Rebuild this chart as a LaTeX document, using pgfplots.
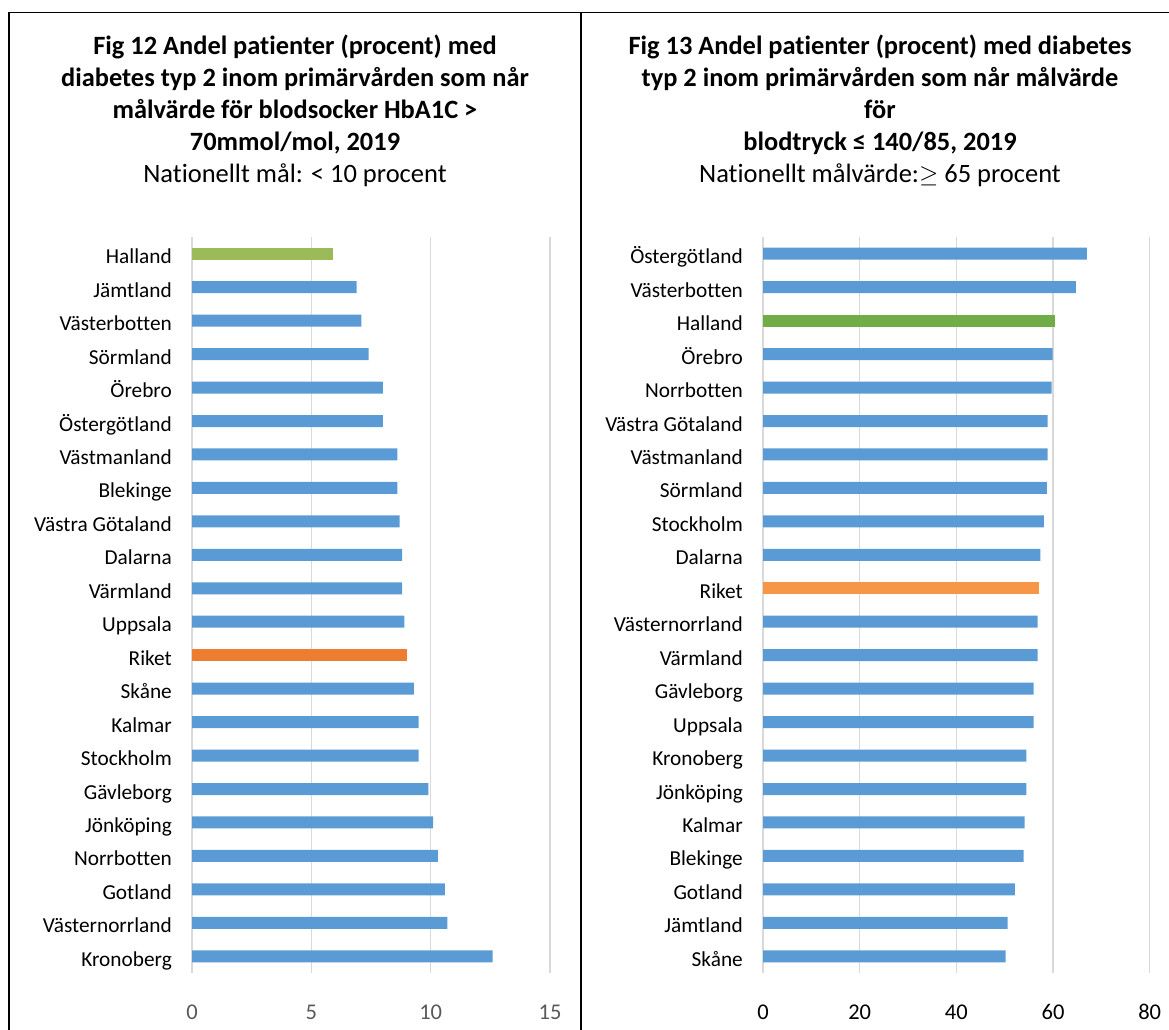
\documentclass[border=0pt]{standalone}
\usepackage{fontspec}
\setmainfont{Carlito}[Ligatures=NoCommon]
\usepackage{pgfplots}
\pgfplotsset{compat=1.18}
\definecolor{barblue}{HTML}{5B9BD5}
\definecolor{lgreen}{HTML}{9BBB59}
\definecolor{lorange}{HTML}{ED7D31}
\definecolor{rgreen}{HTML}{70AD47}
\definecolor{rorange}{HTML}{F79646}
\definecolor{gridgray}{HTML}{D9D9D9}
\definecolor{tickgray}{HTML}{595959}
\pgfplotsset{
  hbars/.style={
    scale only axis, height=736bp,
    xbar, bar width=12bp, bar shift=0pt,
    y dir=reverse, ymin=-0.5, ymax=21.5, ytick={0,...,21},
    xmin=0,
    axis line style={draw=none}, major tick length=0pt,
    xmajorgrids, ymajorgrids=false,
    grid style={color=gridgray, line width=1.5bp},
    yticklabel style={font=\fontsize{21.3bp}{24bp}\selectfont, text=black,
      anchor=base east, inner sep=0pt, xshift=-20bp, yshift=-10bp},
    xticklabel style={font=\fontsize{22.5bp}{26bp}\selectfont,
      anchor=center, inner sep=0pt, yshift=-39bp},
    /pgf/number format/assume math mode=true,
    clip=false,
  },
}
\tikzset{
  titlefont/.style={font=\bfseries\fontsize{26.4bp}{32bp}\selectfont, anchor=base},
  subfont/.style={font=\fontsize{26.5bp}{32bp}\selectfont, anchor=base},
}
\begin{document}
\begin{tikzpicture}
\useasboundingbox (0,0) rectangle (1169bp,1030bp);
\draw[line width=1.3bp] (9bp,0bp) -- (9bp,1017.5bp) -- (1169bp,1017.5bp);
\draw[line width=1.3bp] (581bp,0bp) -- (581bp,1017.5bp);
\coordinate (LA) at (192bp,57bp);
\coordinate (RA) at (763bp,57bp);

% Left titles
\node[titlefont] at (295bp,975bp) {Fig 12 Andel patienter (procent) med};
\node[titlefont] at (295bp,943bp) {diabetes typ 2 inom primärvården som når};
\node[titlefont] at (295bp,911bp) {målvärde för blodsocker HbA1C >};
\node[titlefont] at (295bp,879bp) {70mmol/mol, 2019};
\node[subfont] at (295bp,847bp) {Nationellt mål: < 10 procent};

% Right titles
\node[titlefont] at (880bp,975bp) {Fig 13 Andel patienter (procent) med diabetes};
\node[titlefont] at (880bp,943bp) {typ 2 inom primärvården som når målvärde};
\node[titlefont] at (880bp,911bp) {för};
\node[titlefont] at (880bp,879bp) {blodtryck ≤ 140/85, 2019};
\node[subfont] at (880bp,847bp) {Nationellt målvärde:$\geq$ 65 procent};

\begin{axis}[hbars, at={(LA)}, anchor=south west, width=358bp,
  xmax=15, xtick={0,5,10,15}, xticklabels={0,5,10,15},
  xticklabel style={text=tickgray},
  yticklabels={Halland,Jämtland,Västerbotten,Sörmland,Örebro,Östergötland,Västmanland,Blekinge,Västra Götaland,Dalarna,Värmland,Uppsala,Riket,Skåne,Kalmar,Stockholm,Gävleborg,Jönköping,Norrbotten,Gotland,Västernorrland,Kronoberg}]
\addplot[fill=barblue, draw=none] coordinates {
 (6.9,1) (7.1,2) (7.4,3) (8.0,4) (8.0,5) (8.6,6) (8.6,7) (8.7,8) (8.8,9) (8.8,10) (8.9,11)
 (9.3,13) (9.5,14) (9.5,15) (9.9,16) (10.1,17) (10.3,18) (10.6,19) (10.7,20) (12.6,21)};
\addplot[fill=lgreen, draw=none] coordinates {(5.9,0)};
\addplot[fill=lorange, draw=none] coordinates {(9.0,12)};
\end{axis}

\begin{axis}[hbars, at={(RA)}, anchor=south west, width=386.7bp,
  xmax=80, xtick={0,20,40,60,80}, xticklabels={0,20,40,60,80},
  xticklabel style={text=black},
  yticklabels={Östergötland,Västerbotten,Halland,Örebro,Norrbotten,Västra Götaland,Västmanland,Sörmland,Stockholm,Dalarna,Riket,Västernorrland,Värmland,Gävleborg,Uppsala,Kronoberg,Jönköping,Kalmar,Blekinge,Gotland,Jämtland,Skåne}]
\addplot[fill=barblue, draw=none] coordinates {
 (67.0,0) (64.7,1) (59.9,3) (59.7,4) (58.9,5) (58.9,6) (58.7,7) (58.1,8) (57.4,9)
 (56.8,11) (56.8,12) (56.0,13) (56.0,14) (54.5,15) (54.5,16) (54.1,17) (53.9,18) (52.1,19) (50.6,20) (50.2,21)};
\addplot[fill=rgreen, draw=none] coordinates {(60.5,2)};
\addplot[fill=rorange, draw=none] coordinates {(57.2,10)};
\end{axis}
\end{tikzpicture}
\end{document}
